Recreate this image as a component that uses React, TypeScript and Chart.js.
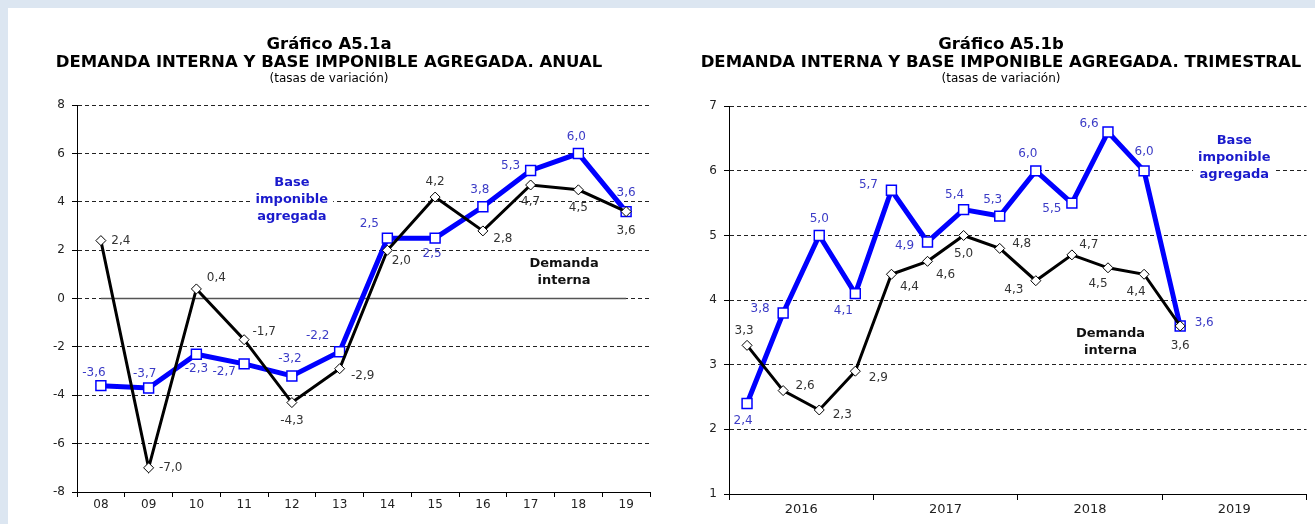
import React, { useEffect, useRef } from 'react';
import { Chart, registerables } from 'chart.js';

Chart.register(...registerables);

// ---------- DATA ----------
const annualCategories = ['08', '09', '10', '11', '12', '13', '14', '15', '16', '17', '18', '19'];
const annualDemanda = [2.4, -7.0, 0.4, -1.7, -4.3, -2.9, 2.0, 4.2, 2.8, 4.7, 4.5, 3.6];
const annualBase = [-3.6, -3.7, -2.3, -2.7, -3.2, -2.2, 2.5, 2.5, 3.8, 5.3, 6.0, 3.6];

const quarterLabels = [
  '2016-I', '2016-II', '2016-III', '2016-IV',
  '2017-I', '2017-II', '2017-III', '2017-IV',
  '2018-I', '2018-II', '2018-III', '2018-IV',
  '2019-I',
];
const quarterYears = ['2016', '2017', '2018', '2019'];
const quarterlyDemanda = [3.3, 2.6, 2.3, 2.9, 4.4, 4.6, 5.0, 4.8, 4.3, 4.7, 4.5, 4.4, 3.6];
const quarterlyBase = [2.4, 3.8, 5.0, 4.1, 5.7, 4.9, 5.4, 5.3, 6.0, 5.5, 6.6, 6.0, 3.6];

// ---------- STYLE (label placement offsets, px) ----------
const annualDemandaOffsets = [
  [20, 0], [22, 0], [20, -11], [20, -8], [0, 18], [23, 7],
  [14, 11], [0, -15], [20, 8], [0, 17], [0, 18], [0, 19],
];
const annualBaseOffsets = [
  [-7, -13], [-4, -14], [0, 15], [-20, 8], [-2, -17], [-22, -16],
  [-18, -14], [-3, 16], [-3, -17], [-20, -5], [-2, -17], [0, -19],
];
const quarterlyDemandaOffsets = [
  [-3, -14], [22, -5], [23, 5], [23, 7], [18, 13], [18, 14], [0, 18],
  [22, -5], [-22, 9], [17, -10], [-10, 16], [-8, 18], [0, 20],
];
const quarterlyBaseOffsets = [
  [-4, 17], [-23, -4], [0, -17], [-12, 17], [-23, -5], [-23, 4], [-9, -15],
  [-7, -16], [-8, -17], [-20, 6], [-19, -8], [0, -19], [24, -3],
];

const FONT = "'DejaVu Sans', Verdana, sans-serif";
const BLUE = '#0000ff';
const BLUE_TEXT = '#3b3bc6';
const BLUE_NOTE = '#1a1acc';
const DARK_TEXT = '#333333';

const fmt = (v: number) => v.toFixed(1).replace('.', ',');

const pointLabelPlugin = {
  id: 'pointLabels',
  afterDatasetsDraw(chart: any, _args: any, opts: any) {
    const ctx = chart.ctx;
    ctx.save();
    ctx.font = `12px ${FONT}`;
    ctx.textAlign = 'center';
    ctx.textBaseline = 'middle';
    chart.data.datasets.forEach((ds: any, di: number) => {
      const meta = chart.getDatasetMeta(di);
      const offsets = opts.offsets[di];
      if (!offsets) return;
      ctx.fillStyle = opts.colors[di];
      meta.data.forEach((pt: any, i: number) => {
        const raw = ds.data[i];
        const v = typeof raw === 'number' ? raw : raw.y;
        const [dx, dy] = offsets[i];
        ctx.fillText(fmt(v), pt.x + dx, pt.y + dy);
      });
    });
    ctx.restore();
  },
};

const notesPlugin = {
  id: 'notes',
  afterDatasetsDraw(chart: any, _args: any, opts: any) {
    const ctx = chart.ctx;
    const xs = chart.scales.x;
    const ys = chart.scales.y;
    ctx.save();
    ctx.font = `bold 13px ${FONT}`;
    ctx.textAlign = 'center';
    ctx.textBaseline = 'middle';
    (opts.items || []).forEach((it: any) => {
      const cx = xs.getPixelForValue(it.x);
      const cy = ys.getPixelForValue(it.y);
      const lh = 17;
      const widths = it.lines.map((l: string) => ctx.measureText(l).width);
      const w = Math.max(...widths) + 10;
      const h = it.lines.length * lh + 4;
      const top = cy - (it.lines.length * lh) / 2;
      ctx.fillStyle = '#ffffff';
      ctx.fillRect(cx - w / 2, top - 2, w, h);
      ctx.fillStyle = it.color;
      it.lines.forEach((l: string, k: number) => {
        ctx.fillText(l, cx, top + lh * k + lh / 2);
      });
    });
    ctx.restore();
  },
};

const zeroLinePlugin = {
  id: 'zeroLine',
  beforeDatasetsDraw(chart: any, _args: any, opts: any) {
    if (!opts || !opts.enabled) return;
    const ctx = chart.ctx;
    const xs = chart.scales.x;
    const ys = chart.scales.y;
    const y = ys.getPixelForValue(0);
    ctx.save();
    ctx.strokeStyle = '#555555';
    ctx.lineWidth = 1.5;
    ctx.beginPath();
    ctx.moveTo(xs.getPixelForValue(0), y);
    ctx.lineTo(xs.getPixelForValue(opts.count - 1), y);
    ctx.stroke();
    ctx.restore();
  },
};

function titlePlugins(titleLines: string[], subBottom: number) {
  return {
    legend: { display: false },
    tooltip: { enabled: false },
    title: {
      display: true,
      text: titleLines,
      color: '#000',
      font: { family: FONT, size: 16.5, weight: 'bold', lineHeight: 1.07 },
      padding: { top: 28, bottom: 0 },
    },
    subtitle: {
      display: true,
      text: '(tasas de variación)',
      color: '#000',
      font: { family: FONT, size: 12, weight: 'normal', lineHeight: 1.2 },
      padding: { top: 0, bottom: subBottom },
    },
  };
}

const demandaStyle = {
  borderColor: '#000',
  borderWidth: 3,
  pointStyle: 'rectRot',
  pointRadius: 5,
  pointBackgroundColor: '#fff',
  pointBorderColor: '#000',
  pointBorderWidth: 1,
  tension: 0,
};

const baseStyle = {
  borderColor: BLUE,
  borderWidth: 5,
  pointStyle: 'rect',
  pointRadius: 7,
  pointBackgroundColor: '#fff',
  pointBorderColor: BLUE,
  pointBorderWidth: 1.5,
  tension: 0,
};

function AnnualChart() {
  const ref = useRef<HTMLCanvasElement>(null);
  useEffect(() => {
    const chart = new Chart(ref.current as HTMLCanvasElement, {
      type: 'line',
      data: {
        labels: annualCategories,
        datasets: [
          { label: 'Demanda interna', data: annualDemanda, ...demandaStyle },
          { label: 'Base imponible agregada', data: annualBase, ...baseStyle },
        ],
      },
      options: {
        responsive: false,
        animation: false,
        devicePixelRatio: 1,
        layout: { padding: { left: 0, right: 42, top: 0, bottom: 0 } },
        scales: {
          x: {
            type: 'category',
            offset: true,
            afterFit: (s: any) => { s.height = 32; },
            grid: { offset: true, drawOnChartArea: false, drawTicks: true, tickLength: 5, tickColor: '#000', tickWidth: 1 },
            border: { display: true, color: '#000', width: 1 },
            ticks: { color: '#222', font: { family: FONT, size: 12 }, padding: 1, maxRotation: 0 },
          },
          y: {
            min: -8,
            max: 8,
            afterFit: (s: any) => { s.width = 69; },
            ticks: { stepSize: 2, color: '#222', font: { family: FONT, size: 12 }, padding: 7 },
            grid: { color: '#222', lineWidth: 1, drawTicks: true, tickLength: 5, tickColor: '#000', tickBorderDash: [] },
            border: { display: true, color: '#000', width: 1, dash: [4, 3] },
          },
        },
        plugins: {
          ...titlePlugins(['Gráfico A5.1a', 'DEMANDA INTERNA Y BASE IMPONIBLE AGREGADA. ANUAL'], 19.5),
          pointLabels: { offsets: [annualDemandaOffsets, annualBaseOffsets], colors: [DARK_TEXT, BLUE_TEXT] },
          notes: {
            items: [
              { lines: ['Base', 'imponible', 'agregada'], x: 4, y: 4.1, color: BLUE_NOTE },
              { lines: ['Demanda', 'interna'], x: 9.7, y: 1.1, color: '#111' },
            ],
          },
          zeroLine: { enabled: true, count: annualCategories.length },
        },
      } as any,
      plugins: [zeroLinePlugin, pointLabelPlugin, notesPlugin],
    });
    return () => chart.destroy();
  }, []);
  return <canvas ref={ref} width={684} height={516} style={{ position: 'absolute', left: 0, top: 0, width: 684, height: 516 }} />;
}

function QuarterlyChart() {
  const ref = useRef<HTMLCanvasElement>(null);
  useEffect(() => {
    const toPoints = (vals: number[]) => vals.map((v, i) => ({ x: i + 0.5, y: v, q: quarterLabels[i] }));
    const chart = new Chart(ref.current as HTMLCanvasElement, {
      type: 'line',
      data: {
        datasets: [
          { label: 'Demanda interna', data: toPoints(quarterlyDemanda), ...demandaStyle },
          { label: 'Base imponible agregada', data: toPoints(quarterlyBase), ...baseStyle },
        ],
      },
      options: {
        responsive: false,
        animation: false,
        devicePixelRatio: 1,
        layout: { padding: { left: 0, right: 3, top: 0, bottom: 0 } },
        scales: {
          x: {
            type: 'linear',
            min: 0,
            max: quarterYears.length * 4,
            afterFit: (s: any) => { s.height = 30; },
            afterBuildTicks: (s: any) => {
              const t = [];
              for (let v = 0; v <= quarterYears.length * 4; v += 2) t.push({ value: v });
              s.ticks = t;
            },
            grid: {
              drawOnChartArea: false,
              drawTicks: true,
              tickLength: 6,
              tickWidth: 1,
              tickColor: (c: any) => (c.tick && c.tick.value % 4 === 0 ? '#000' : 'rgba(0,0,0,0)'),
            },
            border: { display: true, color: '#000', width: 1 },
            ticks: {
              autoSkip: false,
              maxRotation: 0,
              color: '#222',
              font: { family: FONT, size: 13 },
              padding: 2,
              callback: (v: any) => (v % 4 === 2 ? quarterYears[(v - 2) / 4] : ''),
            },
          },
          y: {
            min: 1,
            max: 7,
            afterFit: (s: any) => { s.width = 39; },
            ticks: { stepSize: 1, color: '#222', font: { family: FONT, size: 12 }, padding: 7 },
            grid: { color: '#222', lineWidth: 1, drawTicks: true, tickLength: 5, tickColor: '#000', tickBorderDash: [] },
            border: { display: true, color: '#000', width: 1, dash: [4, 3] },
          },
        },
        plugins: {
          ...titlePlugins(['Gráfico A5.1b', 'DEMANDA INTERNA Y BASE IMPONIBLE AGREGADA. TRIMESTRAL'], 20.5),
          pointLabels: { offsets: [quarterlyDemandaOffsets, quarterlyBaseOffsets], colors: [DARK_TEXT, BLUE_TEXT] },
          notes: {
            items: [
              { lines: ['Base', 'imponible', 'agregada'], x: 14.0, y: 6.21, color: BLUE_NOTE },
              { lines: ['Demanda', 'interna'], x: 10.57, y: 3.35, color: '#111' },
            ],
          },
        },
      } as any,
      plugins: [pointLabelPlugin, notesPlugin],
    });
    return () => chart.destroy();
  }, []);
  return <canvas ref={ref} width={625} height={516} style={{ position: 'absolute', left: 682, top: 0, width: 625, height: 516 }} />;
}

export default function App() {
  useEffect(() => {
    document.body.style.background = '#dce6f1';
    document.body.style.margin = '8px 0 0 8px';
    document.body.style.overflow = 'hidden';
  }, []);
  return (
    <div style={{ position: 'relative', width: 1307, height: 516, background: '#ffffff', overflow: 'hidden' }}>
      <AnnualChart />
      <QuarterlyChart />
    </div>
  );
}
